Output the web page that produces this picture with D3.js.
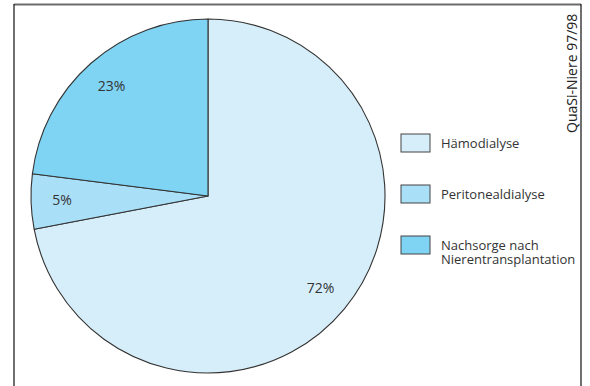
<!DOCTYPE html>
<html>
<head>
<meta charset="utf-8">
<script src="https://cdn.jsdelivr.net/npm/d3@7"></script>
<style>
  html, body { margin: 0; padding: 0; background: #fff; }
  svg { display: block; }
  text { font-family: "Open Sans", "DejaVu Sans", sans-serif; }
</style>
</head>
<body>
<svg id="chart" width="590" height="386"></svg>
<script>
// Verteilung der Behandlungsformen (Anteile in %)
const categories = ["Hämodialyse", "Peritonealdialyse", "Nachsorge nach Nierentransplantation"];
const legendLines = [["Hämodialyse"], ["Peritonealdialyse"], ["Nachsorge nach", "Nierentransplantation"]];
const values = [72, 5, 23];
const colors = ["#d6eefa", "#aadff8", "#7fd3f3"];
const sourceNote = "QuaSi-Niere 97/98";

const svg = d3.select("#chart");
const W = 590, H = 386;

// Rahmen: oben grau, links und rechts dunkel, unten offen
svg.append("line").attr("x1", 14).attr("x2", 581).attr("y1", 4.5).attr("y2", 4.5)
  .attr("stroke", "#6b6b6b").attr("stroke-width", 2);
svg.append("line").attr("x1", 14).attr("x2", 14).attr("y1", 4).attr("y2", H)
  .attr("stroke", "#222").attr("stroke-width", 1.3);
svg.append("line").attr("x1", 581).attr("x2", 581).attr("y1", 4).attr("y2", H)
  .attr("stroke", "#222").attr("stroke-width", 1.3);

// Kreisdiagramm
const cx = 208, cy = 196, radius = 177;
const pie = d3.pie().sort(null).value(d => d)(values);
const arc = d3.arc().innerRadius(0).outerRadius(radius);
const labelArc = d3.arc().innerRadius(146).outerRadius(146);

const g = svg.append("g").attr("transform", `translate(${cx},${cy})`);
const color = d3.scaleOrdinal().domain(categories).range(colors);

g.selectAll("path.slice")
  .data(pie)
  .join("path")
  .attr("class", "slice")
  .attr("d", arc)
  .attr("fill", (d, i) => color(categories[i]))
  .attr("stroke", "#333")
  .attr("stroke-width", 1.1)
  .attr("stroke-linejoin", "round");

g.selectAll("text.pct")
  .data(pie)
  .join("text")
  .attr("class", "pct")
  .attr("transform", d => `translate(${labelArc.centroid(d)})`)
  .attr("text-anchor", "middle")
  .attr("dy", "0.3em")
  .attr("font-size", 14)
  .attr("fill", "#333")
  .text(d => d.value + "%");

// Legende
const legendY = d3.scalePoint().domain(categories).range([143, 245]);
const lg = svg.append("g");
const item = lg.selectAll("g.item")
  .data(categories)
  .join("g")
  .attr("class", "item")
  .attr("transform", d => `translate(401,${legendY(d)})`);

item.append("rect")
  .attr("x", 0).attr("y", -9)
  .attr("width", 29).attr("height", 18)
  .attr("fill", d => color(d))
  .attr("stroke", "#444")
  .attr("stroke-width", 1);

item.append("text")
  .attr("x", 40)
  .attr("font-size", 13)
  .attr("fill", "#333")
  .each(function(d, i) {
    const lines = legendLines[i];
    const t = d3.select(this);
    lines.forEach((ln, j) => {
      t.append("tspan")
        .attr("x", 40)
        .attr("y", 5 + j * 14)
        .text(ln);
    });
  });

// Quellenangabe, senkrecht
svg.append("text")
  .attr("transform", "translate(577,133) rotate(-90)")
  .attr("font-size", 14)
  .attr("fill", "#222")
  .text(sourceNote);
</script>
</body>
</html>
